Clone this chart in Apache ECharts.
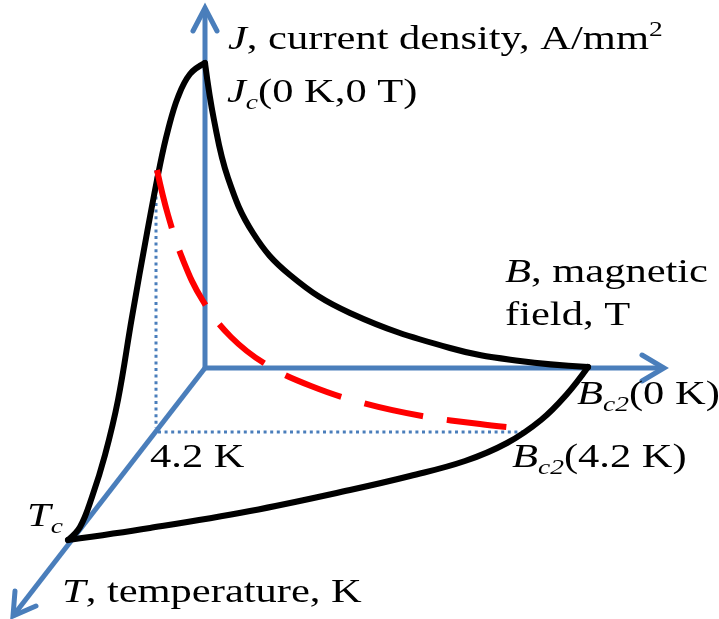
<!DOCTYPE html>
<html><head><meta charset="utf-8">
<script src="https://cdn.jsdelivr.net/npm/echarts@6/dist/echarts.min.js"></script>
<style>html,body{margin:0;padding:0;background:#fff}#c{width:719px;height:619px}</style>
</head><body><div id="c"></div>
<script>
// Schematic space: x grows right, y grows down (0..719 x 0..619)
const jAxisLine = [[205,368],[205,8]];
const bAxisLine = [[205,368],[664,368]];
const tAxisLine = [[205,368],[13,616]];
const jArrow = [[193,31],[205,8],[217,31]];
const bArrow = [[642,355],[664,368],[642,381]];
const tArrow = [[15,591],[13,616],[36,606]];
const dotVertical = [[156,170],[156,428]];
const dotHorizontal = [[158,432],[527,432]];
const surfaceLeft = [[205,63],[190,74],[178,97],[168,130],[160,165],[147,233],[132,317],[118,400],[105,455],[92,497],[80,527],[68,540]];
const surfaceRight = [[205,63],[214,120],[228,178],[253,233],[290,275],[350,313],[450,348],[520,361],[588,367]];
const surfaceBottom = [[588,367],[567,394],[541,420],[507,443],[465,461],[410,476],[350,490],[250,511],[150,528],[68,540]];
const jcAt42K = [[157,170],[168,215],[183,260],[203,301],[231,337],[267,365],[311,386],[363,403],[422,416],[480,424],[507,427]];
const labelTexts = [
  '{i|J}{n|, current density, A/mm}{sup|2}',
  '{i|J}{sub|c}{n|(0 K,0 T)}',
  '{i|B}{n|, magnetic}',
  '{n|field, T}',
  '{i|B}{sub|c2}{n|(0 K)}',
  '{i|B}{sub|c2}{n|(4.2 K)}',
  '{n|4.2 K}',
  '{i|T}{sub|c}',
  '{i|T}{n|, temperature, K}'
];
const labelAnchors = [[228,20],[227,73],[505,253],[505,296],[577,375],[512,438],[150,438],[27,497],[62,573]];

const BLUE = '#4A7EBB';
const FONT = '"Liberation Serif","Times New Roman",serif';
const rich = {
  n:   {fontFamily: FONT, fontSize: 34, fill: '#000', lineHeight: 40},
  i:   {fontFamily: FONT, fontSize: 34, fontStyle: 'italic', fill: '#000', lineHeight: 40},
  sub: {fontFamily: FONT, fontSize: 22, fontStyle: 'italic', fill: '#000', lineHeight: 40, verticalAlign: 'bottom', height: 20},
  sup: {fontFamily: FONT, fontSize: 22, fill: '#000', lineHeight: 40, verticalAlign: 'top', height: 21}
};

function lineSeries(data, color, width, opts) {
  opts = opts || {};
  return {
    type: 'line', data: data, symbol: 'none', silent: true, clip: false,
    lineStyle: {color: color, width: width, type: opts.type || 'solid',
      cap: opts.cap || 'butt', join: opts.join || 'round'},
    z: opts.z || 2
  };
}

// Smooth curve through the data points, positioned with the chart's own axes (api.coord)
function curveSeries(data, color, width, opts) {
  opts = opts || {};
  return {
    type: 'custom', data: data, silent: true, z: opts.z || 3,
    encode: {x: 0, y: 1},
    renderItem: function (params, api) {
      if (params.dataIndex !== 0) return null;
      const pts = data.map(function (p) { return api.coord(p); });
      return {
        type: 'polyline',
        shape: {points: pts, smooth: 0.4},
        style: {stroke: color, lineWidth: width, fill: null,
          lineCap: opts.cap || 'round', lineJoin: 'round',
          lineDash: opts.dash || null}
      };
    }
  };
}

const chart = echarts.init(document.getElementById('c'), null, {renderer: 'canvas'});
chart.setOption({
  animation: false,
  backgroundColor: '#fff',
  grid: {left: 0, right: 0, top: 0, bottom: 0},
  xAxis: {type: 'value', min: 0, max: 719, show: false},
  yAxis: {type: 'value', min: 0, max: 619, inverse: true, show: false},
  series: [
    lineSeries(jAxisLine, BLUE, 5),
    lineSeries(bAxisLine, BLUE, 5),
    lineSeries(tAxisLine, BLUE, 5),
    lineSeries(jArrow, BLUE, 5, {cap: 'round', join: 'miter'}),
    lineSeries(bArrow, BLUE, 5, {cap: 'round', join: 'miter'}),
    lineSeries(tArrow, BLUE, 5, {cap: 'round', join: 'miter'}),
    lineSeries(dotVertical, BLUE, 3, {type: [3, 3.6]}),
    lineSeries(dotHorizontal, BLUE, 3, {type: [3, 3.6]}),
    curveSeries(surfaceLeft, '#000', 6),
    curveSeries(surfaceRight, '#000', 6),
    curveSeries(surfaceBottom, '#000', 6),
    curveSeries(jcAt42K, '#FF0000', 6, {cap: 'butt', dash: [60, 24], z: 4})
  ],
  graphic: labelTexts.map(function (t, k) {
    return {
      type: 'text', x: labelAnchors[k][0], y: labelAnchors[k][1], scaleX: 1.25, z: 10,
      style: {text: t, rich: rich, fontFamily: FONT, fontSize: 34, fill: '#000', align: 'left', verticalAlign: 'top'}
    };
  })
});
</script></body></html>
